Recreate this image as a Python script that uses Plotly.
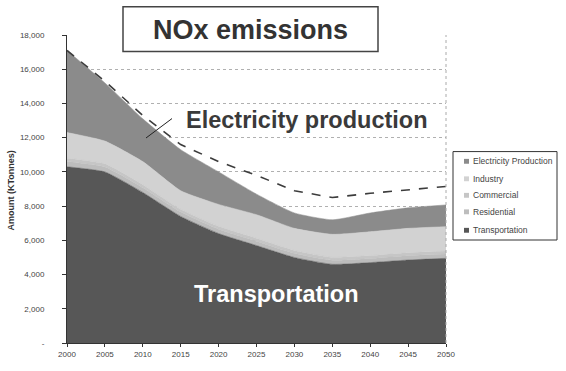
import plotly.graph_objects as go

# Projected NOx emissions by sector (kilotonnes)
years = [2000, 2005, 2010, 2015, 2020, 2025, 2030, 2035, 2040, 2045, 2050]
transportation = [10300, 10000, 8800, 7400, 6400, 5700, 5000, 4600, 4700, 4850, 4950]
residential = [300, 280, 270, 250, 250, 250, 240, 240, 240, 250, 250]
commercial = [200, 190, 180, 170, 170, 170, 170, 170, 170, 170, 170]
industry = [1500, 1330, 1350, 1080, 1280, 1380, 1290, 1340, 1390, 1430, 1430]
electricity = [4800, 3400, 2500, 2400, 1900, 1200, 900, 850, 1100, 1200, 1270]
reference_total = [17100, 15300, 13300, 11600, 10600, 9800, 8900, 8500, 8750, 8950, 9150]

y_ticks = [0, 2000, 4000, 6000, 8000, 10000, 12000, 14000, 16000, 18000]
y_tick_text = ["-", "2,000", "4,000", "6,000", "8,000", "10,000", "12,000",
               "14,000", "16,000", "18,000"]
x_ticks = years

sectors = [
    ("Transportation", transportation, "#575757"),
    ("Residential", residential, "#bdbdbd"),
    ("Commercial", commercial, "#c6c6c6"),
    ("Industry", industry, "#d2d2d2"),
    ("Electricity Production", electricity, "#8b8b8b"),
]

fig = go.Figure()
for name, vals, color in sectors:
    fig.add_trace(go.Scatter(
        x=years, y=vals, name=name, stackgroup="s", showlegend=False,
        mode="lines", line=dict(width=0.5, color=color, shape="spline", smoothing=0.5),
        fillcolor=color,
    ))

fig.add_trace(go.Scatter(
    x=years, y=reference_total, mode="lines", showlegend=False,
    line=dict(color="#3c3c3c", width=1.6, dash="dash"),
))

font = "Arial, Liberation Sans, sans-serif"

# plot area in pixels: x 67..446, y 35..352
L, R, T, B = 67, 446, 35, 352


def px(x):
    return (x - L) / (R - L)


def py(y):
    return (B - y) / (B - T)


shapes = [
    dict(type="line", xref="paper", yref="paper", x0=1, x1=1, y0=0, y1=1,
         line=dict(color="#aaaaaa", width=1, dash="dot")),
    dict(type="rect", xref="paper", yref="paper", x0=px(123), x1=px(378),
         y0=py(52), y1=py(6), fillcolor="white",
         line=dict(color="#444", width=1.5)),
    dict(type="line", xref="paper", yref="paper", x0=px(146), x1=px(172),
         y0=py(141), y1=py(121), line=dict(color="#222", width=1)),
    # legend frame
    dict(type="rect", xref="paper", yref="paper", x0=px(453), x1=px(557),
         y0=py(246), y1=py(155), fillcolor="white",
         line=dict(color="#333", width=1)),
]

annotations = [
    dict(text="<b>NOx emissions</b>", xref="paper", yref="paper",
         x=px(250), y=py(30), xanchor="center", yanchor="middle",
         showarrow=False, font=dict(size=27, color="#333")),
    dict(text="<b>Electricity production</b>", xref="paper", yref="paper",
         x=px(307), y=py(122), xanchor="center", yanchor="middle",
         showarrow=False, font=dict(size=23.5, color="#3a3a3a")),
    dict(text="<b>Transportation</b>", xref="paper", yref="paper",
         x=px(276), y=py(302), xanchor="center", yanchor="middle",
         showarrow=False, font=dict(size=23.5, color="white")),
    dict(text="<b>Amount (KTonnes)</b>", xref="paper", yref="paper",
         x=px(11), y=py(195), xanchor="center", yanchor="middle",
         textangle=-90, showarrow=False, font=dict(size=9, color="#333")),
]

# legend entries, top to bottom
legend_rows = [165, 183, 200, 217, 236]
for (name, _, color), yrow in zip(reversed(sectors), legend_rows):
    shapes.append(dict(type="rect", xref="paper", yref="paper",
                       x0=px(464), x1=px(469), y0=py(yrow + 2.5), y1=py(yrow - 2.5),
                       fillcolor=color, line=dict(width=0)))
    annotations.append(dict(text=name, xref="paper", yref="paper",
                            x=px(471), y=py(yrow), xanchor="left", yanchor="middle",
                            showarrow=False, font=dict(size=8.5, color="#444")))

fig.update_layout(
    width=566, height=371,
    margin=dict(l=L, r=566 - R, t=T, b=371 - B),
    paper_bgcolor="white", plot_bgcolor="white",
    font=dict(family=font, color="#333333"),
    showlegend=False,
    xaxis=dict(
        range=[2000, 2050], tickvals=x_ticks, ticks="outside", ticklen=3,
        tickcolor="#333", showline=True, linecolor="#333", linewidth=1,
        showgrid=False, tickfont=dict(size=8, color="#444"), zeroline=False,
    ),
    yaxis=dict(
        range=[0, 18000], tickvals=y_ticks, ticktext=y_tick_text,
        ticks="outside", ticklen=4, tickcolor="#333",
        showline=True, linecolor="#333", linewidth=1,
        showgrid=True, gridcolor="#b0b0b0", griddash="dot", gridwidth=1,
        tickfont=dict(size=8, color="#444"), zeroline=False,
        ticklabelstandoff=16,
    ),
    shapes=shapes,
    annotations=annotations,
)

fig.write_html("out.html")
